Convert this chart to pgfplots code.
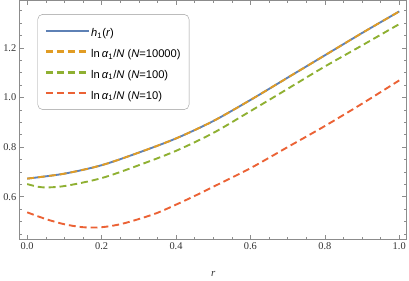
\documentclass[border=0pt]{standalone}
\usepackage{pgfplots}
\pgfplotsset{compat=1.18}
\usepackage{fontspec}
\setmainfont{Liberation Serif}
\setsansfont{Liberation Sans}
\definecolor{mblue}{HTML}{5E81B5}
\definecolor{morange}{HTML}{E19C24}
\definecolor{mgreen}{HTML}{8FB032}
\definecolor{mred}{HTML}{EB6235}
\begin{document}
\begin{tikzpicture}
\begin{axis}[
  scale only axis, width=390bp, height=241bp,
  xmin=-0.02, xmax=1.02, ymin=0.428, ymax=1.392,
  xtick={0,0.2,0.4,0.6,0.8,1.0},
  ytick={0.4,0.6,0.8,1.0,1.2,1.4},
  minor x tick num=3, minor y tick num=3,
  tick align=inside,
  major tick length=4.5bp, minor tick length=2.5bp,
  axis line style={gray!90, line width=0.6bp},
  every tick/.style={gray!90, line width=0.5bp},
  /pgf/number format/assume math mode=true,
  xticklabel style={/pgf/number format/.cd,fixed,fixed zerofill,precision=1},
  yticklabel style={/pgf/number format/.cd,fixed,fixed zerofill,precision=1},
  tick label style={font=\fontsize{10.5}{12}\selectfont, text=black!80},
  xlabel={\textit{r}},
  xlabel style={font=\fontsize{11}{13}\selectfont, text=black!80, yshift=-15bp},
  legend cell align=left,
  legend style={at={(0.046,0.942)}, anchor=north west, draw=gray!80,
    rounded corners=5bp, font=\sffamily\fontsize{11.3}{13}\selectfont,
    row sep=0bp, inner xsep=7bp, inner ysep=6bp,
    nodes={inner sep=1.5bp, text height=15bp, text depth=3bp}},
  legend image code/.code={\draw[#1] (0bp,0bp) -- (43bp,0bp);},
  legend image post style={line width=2.4bp},
]
\addplot[mblue, line width=1.9bp, smooth, solid] coordinates {
(0.0,0.673) (0.1,0.693) (0.2,0.727) (0.3,0.778) (0.4,0.835) (0.5,0.905)
(0.6,0.99) (0.7,1.08) (0.8,1.17) (0.9,1.26) (1.0,1.347)};
\addlegendentry{\textit{h}\textsubscript{1}(\textit{r})}
\addplot[morange, line width=1.9bp, dash pattern=on 7bp off 4bp, smooth] coordinates {
(0.0,0.673) (0.1,0.693) (0.2,0.727) (0.3,0.778) (0.4,0.835) (0.5,0.905)
(0.6,0.99) (0.7,1.08) (0.8,1.17) (0.9,1.26) (1.0,1.347)};
\addlegendentry{ln\,\textit{α}\textsubscript{1}/\textit{N} (\textit{N}=10000)}
\addplot[mgreen, line width=1.9bp, dash pattern=on 7bp off 4bp, smooth] coordinates {
(0.0,0.651) (0.04,0.638) (0.1,0.643) (0.2,0.675) (0.3,0.727) (0.4,0.785) (0.5,0.857)
(0.6,0.945) (0.7,1.035) (0.8,1.125) (0.9,1.21) (1.0,1.296)};
\addlegendentry{ln\,\textit{α}\textsubscript{1}/\textit{N} (\textit{N}=100)}
\addplot[mred, line width=1.9bp, dash pattern=on 7bp off 4bp, smooth] coordinates {
(0.0,0.537) (0.05,0.51) (0.1,0.489) (0.15,0.477) (0.2,0.477) (0.25,0.489) (0.3,0.51)
(0.35,0.535) (0.4,0.568) (0.45,0.603) (0.5,0.64) (0.6,0.715) (0.7,0.8)
(0.8,0.885) (0.9,0.975) (1.0,1.069)};
\addlegendentry{ln\,\textit{α}\textsubscript{1}/\textit{N} (\textit{N}=10)}
\end{axis}
\end{tikzpicture}
\end{document}
